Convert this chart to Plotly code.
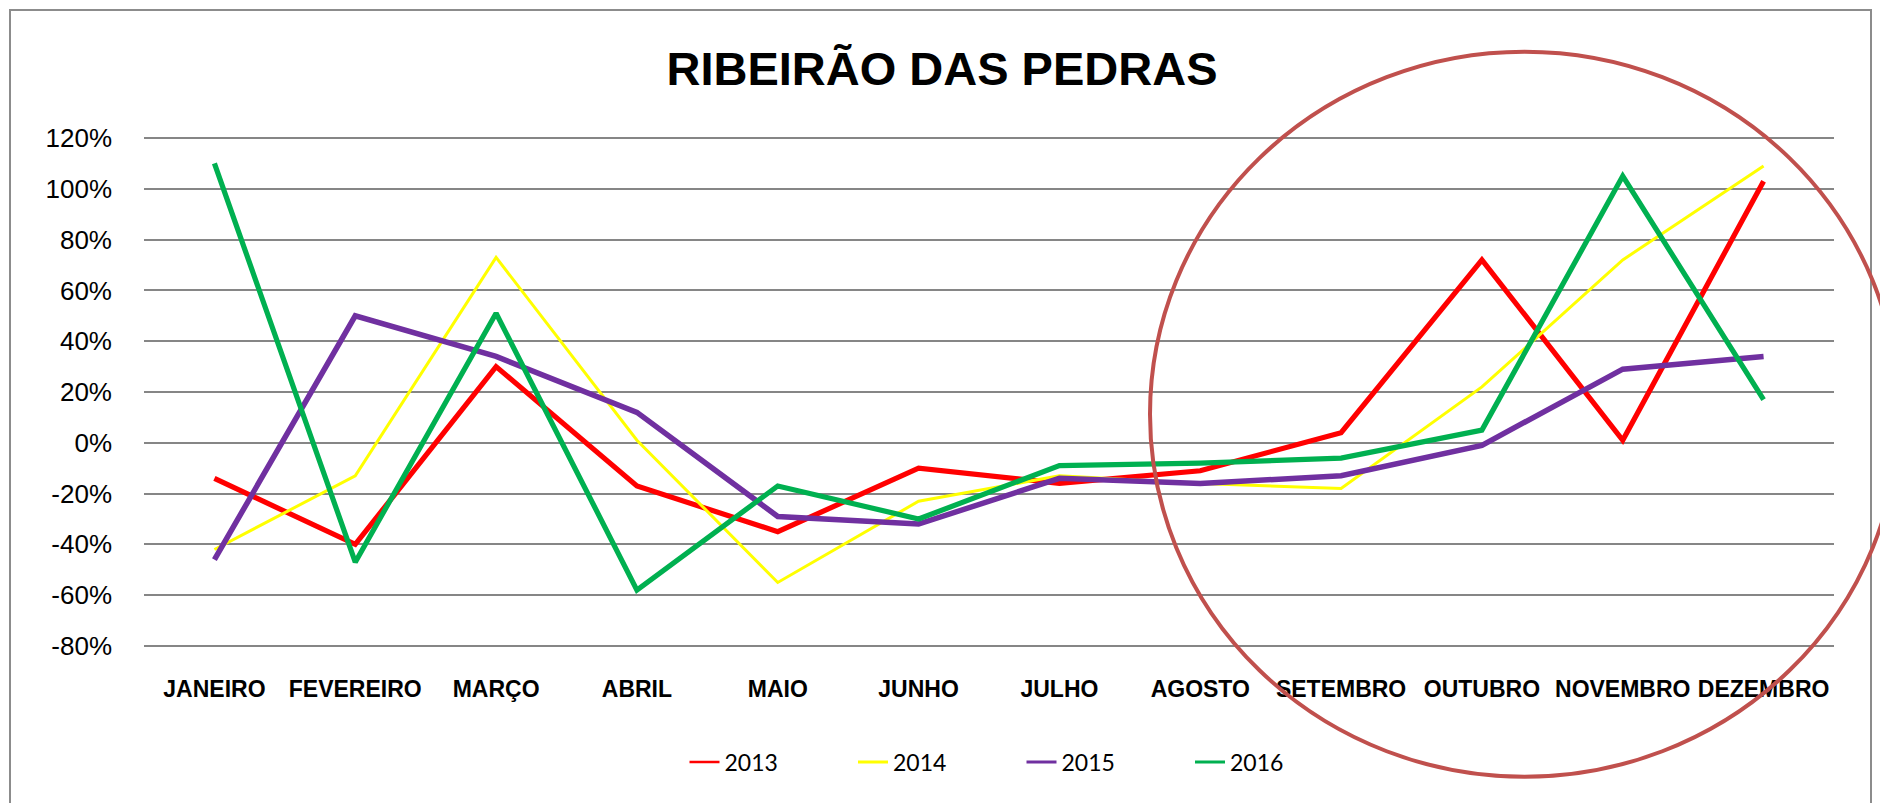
import plotly.graph_objects as go

months = ["JANEIRO", "FEVEREIRO", "MARÇO", "ABRIL", "MAIO", "JUNHO",
          "JULHO", "AGOSTO", "SETEMBRO", "OUTUBRO", "NOVEMBRO", "DEZEMBRO"]

v2013 = [-14, -40, 30, -17, -35, -10, -16, -11, 4, 72, 1, 103]
v2014 = [-42, -13, 73, 1, -55, -23, -13, -16, -18, 22, 72, 109]
v2015 = [-46, 50, 34, 12, -29, -32, -14, -16, -13, -1, 29, 34]
v2016 = [110, -47, 51, -58, -17, -30, -9, -8, -6, 5, 105, 17]

series_names = ["2013", "2014", "2015", "2016"]
series_values = [v2013, v2014, v2015, v2016]
series_colors = ["#FF0000", "#FFFF00", "#7030A0", "#00B050"]
series_widths = [5.2, 3, 5.5, 5.2]
legend_widths = [2.5, 3, 3, 3]

y_tick_vals = [-80, -60, -40, -20, 0, 20, 40, 60, 80, 100, 120]
y_tick_text = ["-80%", "-60%", "-40%", "-20%", "0%", "20%", "40%",
               "60%", "80%", "100%", "120%"]

title_text = "RIBEIRÃO DAS PEDRAS"

# page offset of the figure inside the html body (default body margin)
OFF = 8
W, H = 1888, 803
ML, MT = 136, 129
PW, PH = 1690, 510
MR, MB = W - ML - PW, H - MT - PH


def px_x(px):
    return (px - OFF - ML) / PW


def px_y(py):
    return (MT + PH - (py - OFF)) / PH


font_main = "Liberation Sans, Arial, sans-serif"

fig = go.Figure()
for name, vals, col, w in zip(series_names, series_values, series_colors, series_widths):
    fig.add_trace(go.Scatter(
        x=months, y=vals, name=name, mode="lines",
        line=dict(color=col, width=w),
        hoverinfo="skip", showlegend=False, legendgroup=name,
    ))
for name, col, w in zip(series_names, series_colors, legend_widths):
    fig.add_trace(go.Scatter(
        x=[None], y=[None], name=name, mode="lines",
        line=dict(color=col, width=w),
        hoverinfo="skip", showlegend=True, legendgroup=name,
    ))

fig.update_layout(
    width=W, height=H,
    margin=dict(l=ML, r=MR, t=MT, b=MB, pad=0),
    paper_bgcolor="white", plot_bgcolor="white",
    title=dict(text="<b>" + title_text + "</b>", x=(942 - OFF) / W, xanchor="center",
               y=1 - (68.6 - OFF) / H, yanchor="middle",
               font=dict(family=font_main, size=47, color="black")),
    xaxis=dict(type="category", range=[-0.5, 11.5], showgrid=False,
               showline=False, zeroline=False, ticks="", tickangle=0,
               tickfont=dict(family=font_main, size=23, color="black", weight="bold"),
               ticklabelstandoff=26, fixedrange=True),
    yaxis=dict(range=[-80.4, 120.4], tickvals=y_tick_vals, ticktext=y_tick_text,
               showgrid=True, gridcolor="#868686", gridwidth=2,
               zeroline=False, showline=False, ticks="",
               tickfont=dict(family=font_main, size=26, color="black"),
               ticklabelstandoff=31, fixedrange=True),
    legend=dict(orientation="h", x=px_x(684.5), xanchor="left",
                y=px_y(762), yanchor="middle",
                font=dict(family="Lato, Open Sans, sans-serif", size=23, color="black"),
                entrywidth=123.5, entrywidthmode="pixels",
                bgcolor="rgba(0,0,0,0)"),
    showlegend=True,
    shapes=[
        dict(type="rect", xref="paper", yref="paper",
             x0=px_x(10), x1=px_x(1871), y0=px_y(840), y1=px_y(10),
             line=dict(color="#8C8C8C", width=2), layer="below"),
        dict(type="circle", xref="paper", yref="paper",
             x0=px_x(1150), x1=px_x(1899), y0=px_y(776.7), y1=px_y(51.7),
             line=dict(color="#C0504D", width=4), layer="above"),
    ],
)

fig.write_html("out.html")
